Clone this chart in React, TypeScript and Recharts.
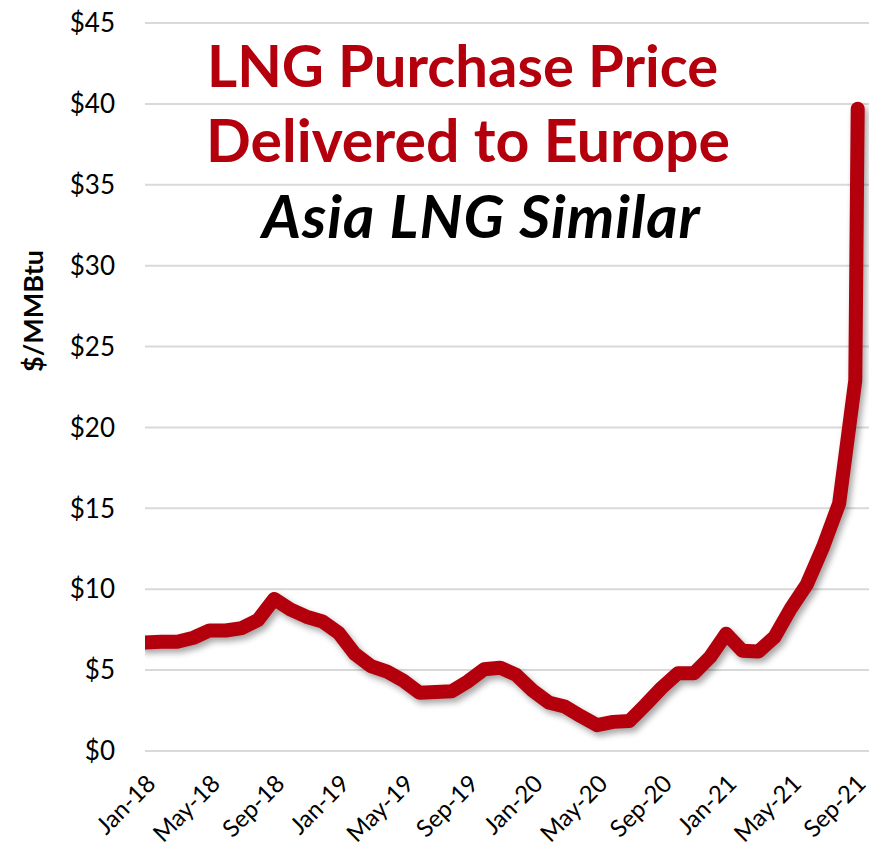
import { LineChart, Line, XAxis, YAxis, CartesianGrid } from "recharts";

const months = [
  "Jan-18", "Feb-18", "Mar-18", "Apr-18", "May-18", "Jun-18", "Jul-18", "Aug-18", "Sep-18", "Oct-18", "Nov-18", "Dec-18",
  "Jan-19", "Feb-19", "Mar-19", "Apr-19", "May-19", "Jun-19", "Jul-19", "Aug-19", "Sep-19", "Oct-19", "Nov-19", "Dec-19",
  "Jan-20", "Feb-20", "Mar-20", "Apr-20", "May-20", "Jun-20", "Jul-20", "Aug-20", "Sep-20", "Oct-20", "Nov-20", "Dec-20",
  "Jan-21", "Feb-21", "Mar-21", "Apr-21", "May-21", "Jun-21", "Jul-21", "Aug-21", "Sep-21",
];

// $/MMBtu, monthly
const prices = [
  6.7, 6.75, 6.75, 7.0, 7.45, 7.45, 7.6, 8.1, 9.4, 8.75, 8.3, 8.0,
  7.3, 6.0, 5.25, 4.9, 4.35, 3.6, 3.65, 3.7, 4.3, 5.05, 5.15, 4.7,
  3.75, 3.0, 2.75, 2.15, 1.6, 1.8, 1.85, 2.85, 3.9, 4.8, 4.8, 5.8,
  7.25, 6.2, 6.15, 7.05, 8.8, 10.3, 12.6, 15.3, 22.9,
];

// latest spot quote, a few days after the last monthly point
const spotPrice = 39.7;
const spotLag = 0.15; // months after Sep-21

const yTicks = [0, 5, 10, 15, 20, 25, 30, 35, 40, 45];
const xTicks = [0, 4, 8, 12, 16, 20, 24, 28, 32, 36, 40, 44];

const data = prices
  .map((p, i) => ({ t: i, price: p }))
  .concat([{ t: months.length - 1 + spotLag, price: spotPrice }]);

const RED = "#B4000D";
const FONT = "Lato, 'Open Sans', sans-serif";

export default function App() {
  return (
    <div style={{ position: "absolute", left: 0, top: 0, width: 871, height: 851, background: "#fff" }}>
      <style>{`.lng-line path { filter: drop-shadow(3px 4px 3px rgba(0,0,0,0.35)); }`}</style>
      <LineChart
        width={871}
        height={851}
        data={data}
        margin={{ top: 23, right: 2, bottom: 0, left: 0 }}
        style={{ fontFamily: FONT }}
      >
        <CartesianGrid vertical={false} stroke="#D9D9D9" strokeWidth={2} />
        <XAxis
          dataKey="t"
          type="number"
          domain={[0, 44.85]}
          ticks={xTicks}
          interval={0}
          allowDataOverflow
          tickFormatter={(i) => months[i]}
          angle={-45}
          textAnchor="end"
          height={100}
          axisLine={false}
          tickLine={false}
          tickMargin={16}
          tick={{ fontSize: 24, fill: "#000", fontFamily: FONT }}
        />
        <YAxis
          domain={[0, 45]}
          ticks={yTicks}
          width={145}
          axisLine={false}
          tickLine={false}
          tickMargin={24}
          tickFormatter={(v) => `$${v}`}
          tick={{ fontSize: 26, fill: "#000", fontFamily: FONT }}
        />
        <Line
          className="lng-line"
          dataKey="price"
          type="linear"
          stroke={RED}
          strokeWidth={14}
          strokeLinejoin="round"
          strokeLinecap="round"
          dot={false}
          activeDot={false}
          isAnimationActive={false}
        />
      </LineChart>
      <svg
        width={871}
        height={851}
        style={{ position: "absolute", left: 0, top: 0, pointerEvents: "none", fontFamily: FONT }}
      >
        <text x={207} y={87} fill={RED} fontSize={58} fontWeight={700}>
          LNG Purchase Price
        </text>
        <text x={206} y={162} fill={RED} fontSize={59} fontWeight={700}>
          Delivered to Europe
        </text>
        <text x={262} y={238} fill="#000" fontSize={60} fontWeight={700} fontStyle="italic" letterSpacing={1}>
          Asia LNG Similar
        </text>
        <text
          transform="translate(43, 311) rotate(-90)"
          textAnchor="middle"
          fill="#000"
          fontSize={27}
          fontWeight={700}
        >
          $/MMBtu
        </text>
      </svg>
    </div>
  );
}
